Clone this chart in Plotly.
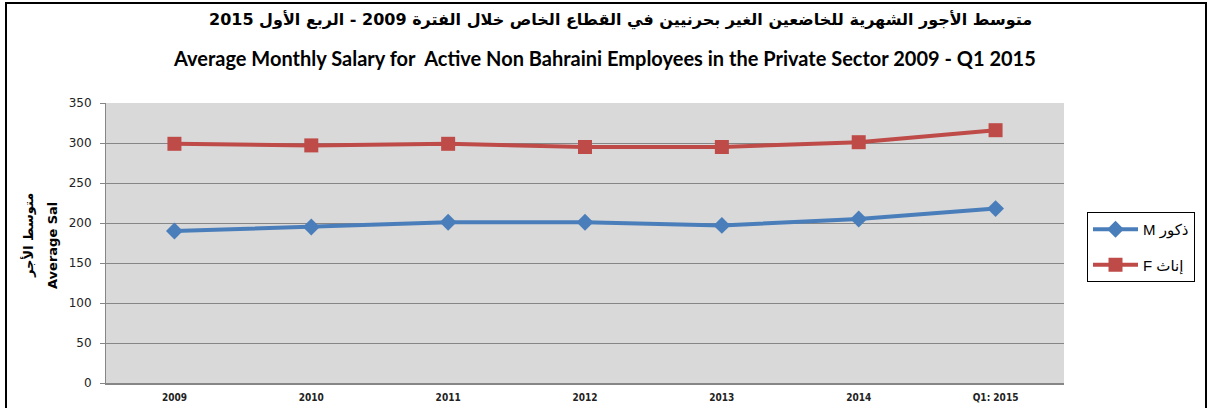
import plotly.graph_objects as go

categories = ["2009", "2010", "2011", "2012", "2013", "2014", "Q1: 2015"]
male = [190, 195, 201, 201, 197, 205, 218]
female = [299, 297, 299, 295, 295, 301, 316]
y_ticks = [0, 50, 100, 150, 200, 250, 300, 350]

W, H = 1211, 408
L, R, T, B = 106, 1064, 103, 383

fig = go.Figure()
fig.add_trace(go.Scatter(
    x=categories, y=male, name="M ذكور", mode="lines+markers",
    line=dict(color="#4A7EBB", width=4),
    marker=dict(symbol="diamond", size=13, color="#4A7EBB"),
    legendgroup="m",
))
fig.add_trace(go.Scatter(
    x=categories, y=female, name="F إناث", mode="lines+markers",
    line=dict(color="#BE4B48", width=4),
    marker=dict(symbol="square", size=14, color="#BE4B48"),
    legendgroup="f",
))

def px_x(x):
    return (x - L) / (R - L)

def px_y(y):
    return (B - y) / (B - T)

fig.update_layout(
    width=W, height=H,
    margin=dict(l=L, r=W - R, t=T, b=H - B, autoexpand=False),
    paper_bgcolor="white",
    plot_bgcolor="#D9D9D9",
    showlegend=True,
    legend=dict(
        x=px_x(1087), y=px_y(212), xanchor="left", yanchor="top",
        bordercolor="black", borderwidth=1, bgcolor="white",
        font=dict(family="Arial, DejaVu Sans", size=15, color="black"),
        tracegroupgap=13, traceorder="grouped",
        itemwidth=45,
    ),
    xaxis=dict(
        type="category", range=[-0.5, 6.5],
        tickvals=categories, ticktext=["<b>%s</b>" % c for c in categories],
        showgrid=False, showline=True, linecolor="#868686", linewidth=1.5,
        ticks="", ticklabelstandoff=4,
        tickfont=dict(family="DejaVu Sans Condensed", size=10, color="#222"),
    ),
    yaxis=dict(
        range=[0, 350], tickvals=y_ticks,
        showgrid=True, gridcolor="#868686", gridwidth=1,
        showline=True, linecolor="#868686", linewidth=1,
        ticks="outside", ticklen=5, tickcolor="#868686",
        ticklabelstandoff=6,
        tickfont=dict(family="DejaVu Sans", size=12, color="#222"),
        zeroline=False,
    ),
    font=dict(family="Arial, DejaVu Sans"),
)

# outer chart border
fig.add_shape(type="rect", xref="paper", yref="paper",
              x0=px_x(6), x1=px_x(1206), y0=px_y(440), y1=px_y(3),
              line=dict(color="black", width=2), fillcolor="rgba(0,0,0,0)", layer="below")

# titles
fig.add_annotation(xref="paper", yref="paper", x=px_x(620), y=px_y(20),
                   text="<b>متوسط الأجور الشهرية للخاضعين الغير بحرنيين في القطاع الخاص خلال الفترة 2009 - الربع الأول 2015</b>",
                   showarrow=False, font=dict(family="DejaVu Sans, Arial", size=16, color="black"),
                   xanchor="center", yanchor="middle")
fig.add_annotation(xref="paper", yref="paper", x=px_x(604), y=px_y(58),
                   text="<b>Average Monthly Salary for  Active Non Bahraini Employees in the Private Sector 2009 - Q1 2015</b>",
                   showarrow=False, font=dict(family="Lato, Liberation Sans, Arial", size=20, color="black"),
                   xanchor="center", yanchor="middle")
# y axis title (two lines)
fig.add_annotation(xref="paper", yref="paper", x=px_x(28), y=px_y(236),
                   text="<b>متوسط الأجر</b>",
                   textangle=-90, showarrow=False,
                   font=dict(family="DejaVu Sans, Arial", size=13, color="black"),
                   xanchor="center", yanchor="middle")
fig.add_annotation(xref="paper", yref="paper", x=px_x(52), y=px_y(246),
                   text="<b>Average Sal</b>",
                   textangle=-90, showarrow=False,
                   font=dict(family="DejaVu Sans, Arial", size=13, color="black"),
                   xanchor="center", yanchor="middle")

fig.write_html("out.html", config={"displayModeBar": False},
               post_script="document.body.style.margin='0';document.body.style.padding='0';")
